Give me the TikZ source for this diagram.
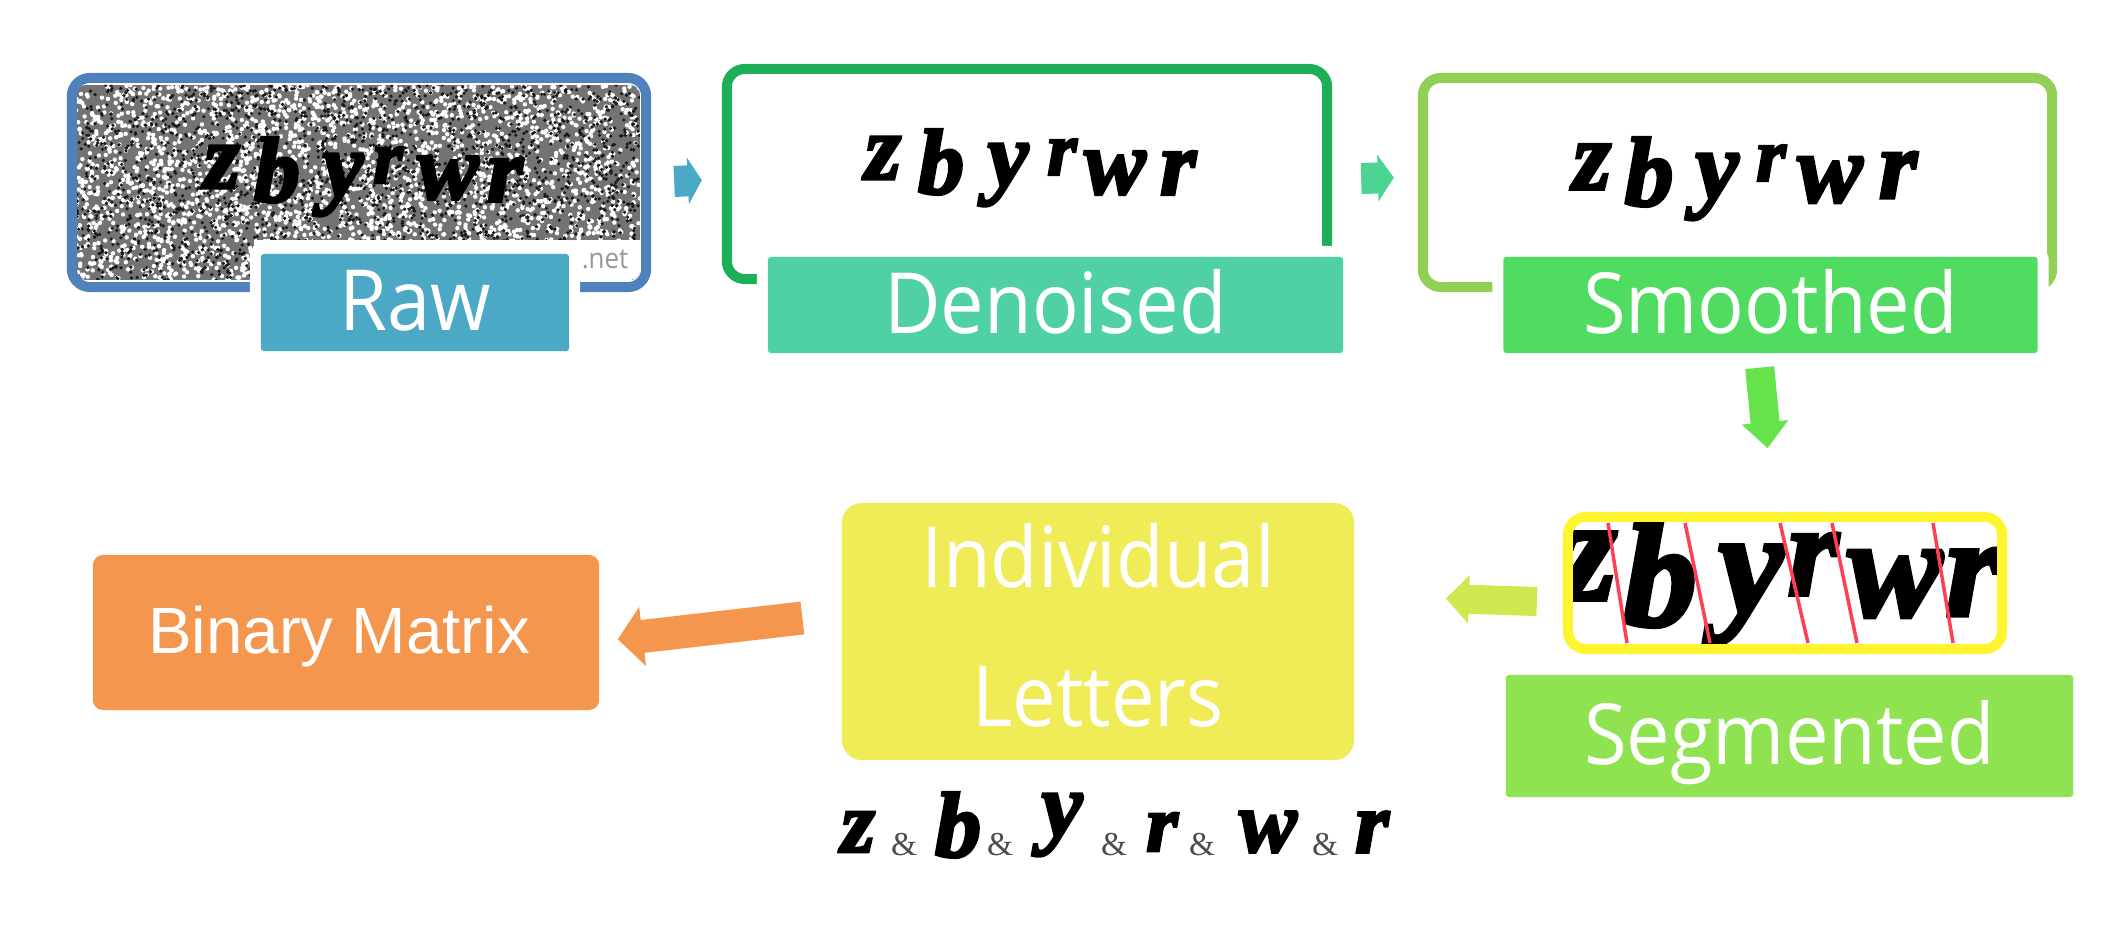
\documentclass[tikz,border=0pt]{standalone}
\usepackage{fontspec}
\setmainfont[FakeStretch=0.92]{Open Sans}
\newfontfamily\captchafont[BoldItalicFeatures={FakeBold=3}]{Liberation Serif}
\newfontfamily\ampfont{Liberation Serif}
\newfontfamily\matrixfont{Liberation Sans}
\usetikzlibrary{arrows.meta}
\definecolor{rawblue}{HTML}{4F81BD}
\definecolor{rawlabel}{HTML}{4BA9C5}
\definecolor{denoisedgreen}{HTML}{1CAF55}
\definecolor{denoisedlabel}{HTML}{50D0A5}
\definecolor{denoisedarrow}{HTML}{4DD493}
\definecolor{smoothedgreen}{HTML}{92CF55}
\definecolor{smoothedlabel}{HTML}{50DC60}
\definecolor{smoothedarrow}{HTML}{66E24C}
\definecolor{segyellow}{HTML}{FFF52E}
\definecolor{seglabel}{HTML}{8FE350}
\definecolor{segarrow}{HTML}{CEE84F}
\definecolor{segred}{HTML}{FF4050}
\definecolor{letterbox}{HTML}{EFEC58}
\definecolor{matrixbox}{HTML}{F5964F}
\tikzset{
  framebox/.style={draw=#1, line width=0.1cm, rounded corners=0.18cm, inner sep=0pt},
  steplabel/.style={fill=#1, text=white, rounded corners=0.03cm, inner sep=0pt,
    text height=0.56cm, text depth=0cm,
    font=\fontsize{24}{28}\selectfont, preaction={draw=white, line width=0.22cm}},
  flow/.style n args={3}{line width=#1, -{Triangle[length=#2, width=#3]}},
  captcha/.style={inner sep=0pt, font=\captchafont\bfseries\itshape\fontsize{31}{31}\selectfont},
  amp/.style={inner sep=0pt, text=black!70, font=\ampfont\fontsize{9.5}{10}\selectfont},
}
\begin{document}
\begin{tikzpicture}[x=0.01cm, y=-0.01cm]
  \useasboundingbox (0,0) rectangle (2110,934);

  % noise of the raw picture
  \pgfmathsetseed{7}
  \begin{scope}
    \clip[rounded corners=0.1cm] (76,85) rectangle (640,280);
    \fill[black!55] (76,85) rectangle (640,280);
    \foreach \i in {1,...,3000} {
      \pgfmathsetmacro\nx{76+564*rnd}
      \pgfmathsetmacro\ny{85+195*rnd}
      \fill[white] (\nx,\ny) circle (2.2);
    }
    \foreach \i in {1,...,2200} {
      \pgfmathsetmacro\nx{76+564*rnd}
      \pgfmathsetmacro\ny{85+195*rnd}
      \fill[black!90] (\nx,\ny) circle (1.8);
    }
    \fill[white] (254,240) rectangle (640,280);
  \end{scope}
  \foreach \ltr/\cx/\cy/\csz [count=\i] in {z/222/167/.85, b/277/170/.85, y/343/185/.85, r/388/165/.7, w/448/178/.85, r/505/180/.85}
    \node[captcha, scale=\csz] (rawl\i) at (\cx,\cy) {\ltr};
  \node[inner sep=0pt, text=black!40, font=\fontsize{8}{9}\selectfont] (netmark) at (605,259) {.net};
  \node[framebox=rawblue, minimum width=5.74cm, minimum height=2.09cm] (rawframe) at (359,182.5) {};
  \node[steplabel=rawlabel, minimum width=3.08cm, minimum height=0.97cm] (rawtag) at (415,302.5) {Raw};

  \foreach \ltr/\cx/\cy/\csz [count=\i] in {z/883/158/.85, b/941/162/.85, y/1008/175/.85, r/1062/157/.7, w/1115/173/.85, r/1178/173/.85}
    \node[captcha, scale=\csz] (denl\i) at (\cx,\cy) {\ltr};
  \node[framebox=denoisedgreen, minimum width=6cm, minimum height=2.1cm] (denframe) at (1027,174) {};
  \node[steplabel=denoisedlabel, minimum width=5.75cm, minimum height=0.96cm] (dentag) at (1055.5,305) {Denoised};

  \foreach \ltr/\cx/\cy/\csz [count=\i] in {z/1592/167/.9, b/1649/172/.9, y/1717/187/.9, r/1771/163/.7, w/1830/180/.9, r/1898/175/.9}
    \node[captcha, scale=\csz] (smol\i) at (\cx,\cy) {\ltr};
  \node[framebox=smoothedgreen, minimum width=6.29cm, minimum height=2.09cm] (smoframe) at (1737.5,182.5) {};
  \node[steplabel=smoothedlabel, minimum width=5.34cm, minimum height=0.96cm] (smotag) at (1770.5,305) {Smoothed};

  % segmented picture, letters cut off by the frame
  \begin{scope}
    \clip (1568,517) rectangle (2002,649);
    \foreach \ltr/\cx/\cy/\csz [count=\i] in {z/1588/566/1.35, b/1660/575/1.35, y/1751/595/1.35, r/1813/564/1.2, w/1895/584/1.3, r/1973/582/1.3}
      \node[captcha, scale=\csz] (segl\i) at (\cx,\cy) {\ltr};
    \foreach \ta/\tb in {1608/1627, 1685/1710, 1780/1808, 1832/1857, 1933/1953}
      \draw[segred, line width=0.035cm] (\ta,523) -- (\tb,643);
  \end{scope}
  \node[framebox=segyellow, minimum width=4.34cm, minimum height=1.32cm] (segframe) at (1785,583) {};
  \node[steplabel=seglabel, minimum width=5.67cm, minimum height=1.22cm] (segtag) at (1789.5,736) {Segmented};

  \node[fill=letterbox, rounded corners=0.2cm, minimum width=5.12cm, minimum height=2.57cm, inner sep=0pt] (letters) at (1098,631.5) {};
  \node[text=white, align=center, inner sep=0pt, font=\fontsize{24}{39.6}\selectfont] (lettertext) at (1098,625) {Individual\\Letters};
  \node[fill=matrixbox, rounded corners=0.1cm, minimum width=5.06cm, minimum height=1.55cm, inner sep=0pt] (matrix) at (346,632.5) {};
  \node[inner sep=0pt, text=white, font=\matrixfont\fontsize{18.6}{20}\selectfont] (matrixtext) at (339,637) {Binary Matrix};

  \foreach \ltr/\cx/\cy/\csz [count=\i] in {z/858/832/.8, b/958/825/.85, y/1062/825/.85, r/1162/832/.75, w/1268/832/.8, r/1372/832/.8}
    \node[captcha, scale=\csz] (sepl\i) at (\cx,\cy) {\ltr};
  \foreach \ax [count=\i] in {904,1000,1114,1202,1325}
    \node[amp] (amp\i) at (\ax,845) {\&};

  % arrows
  \draw[flow={0.31cm}{0.14cm}{0.46cm}, rawlabel, shorten <=0.23cm, shorten >=0.2cm] (rawframe.0.7) -- (denframe.181);
  \draw[flow={0.31cm}{0.16cm}{0.46cm}, denoisedarrow, shorten <=0.29cm, shorten >=0.24cm] (denframe.359) -- (smoframe.179.4);
  \draw[flow={0.29cm}{0.26cm}{0.45cm}, smoothedarrow, shorten <=0.14cm, shorten >=0.64cm] (smotag.256.4) -- (segframe.99.6);
  \draw[flow={0.29cm}{0.23cm}{0.47cm}, segarrow, shorten <=0.26cm, shorten >=0.91cm] (segframe.185) -- (letters.8.2);
  \draw[flow={0.33cm}{0.25cm}{0.58cm}, matrixbox, shorten <=0.39cm, shorten >=0.18cm] (letters.176.6) -- (matrix.358.6);
\end{tikzpicture}
\end{document}
